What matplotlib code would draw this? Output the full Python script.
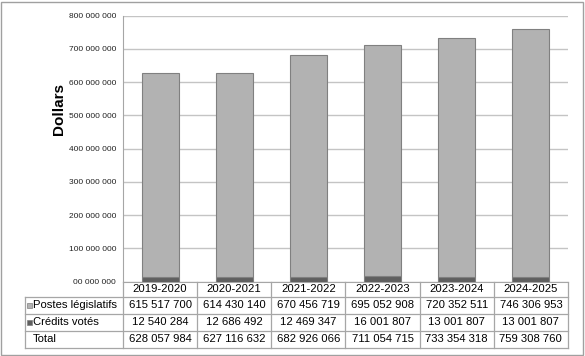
import matplotlib.pyplot as plt
import matplotlib.transforms as mtransforms
import numpy as np

years = ['2019-2020', '2020-2021', '2021-2022', '2022-2023', '2023-2024', '2024-2025']
postes = [615517700, 614430140, 670456719, 695052908, 720352511, 746306953]
credits = [12540284, 12686492, 12469347, 16001807, 13001807, 13001807]
totals = [628057984, 627116632, 682926066, 711054715, 733354318, 759308760]
ytick_vals = [0, 100e6, 200e6, 300e6, 400e6, 500e6, 600e6, 700e6, 800e6]
ytick_labels = ['00 000 000', '100 000 000', '200 000 000', '300 000 000', '400 000 000',
                '500 000 000', '600 000 000', '700 000 000', '800 000 000']


def fmt(v):
    return f'{v:,}'.replace(',', ' ')


plt.rcParams['font.family'] = ['Liberation Sans', 'DejaVu Sans']

light = '#b2b2b2'
dark = '#5f5f5f'
edge = '#808080'
line_c = '#a6a6a6'

fig = plt.figure(figsize=(5.85, 3.56), dpi=100)
W, H = 585, 356
ax = fig.add_axes([123 / W, 1 - 281.5 / H, 445 / W, 265.8 / H])

x = np.arange(len(years))
ax.bar(x, credits, width=0.5, color=dark, edgecolor=edge, linewidth=0.8, zorder=3)
ax.bar(x, postes, bottom=credits, width=0.5, color=light, edgecolor=edge, linewidth=0.8, zorder=3)

ax.set_xlim(-0.5, len(years) - 0.5)
ax.set_ylim(0, 800e6)
ax.set_yticks(ytick_vals)
ax.set_yticklabels(ytick_labels, fontsize=6, color='#222222')
ax.set_xticks([])
ax.tick_params(axis='y', length=0, pad=5)
ax.yaxis.grid(True, color='#c4c4c4', linewidth=1, zorder=0)
for s in ['top', 'right']:
    ax.spines[s].set_visible(False)
ax.spines['left'].set_color(line_c)
ax.spines['bottom'].set_color(line_c)
ax.set_ylabel('Dollars', fontsize=11, fontweight='bold')
ax.yaxis.set_label_coords(-0.128, 0.65)

# data table below the bars
trans = mtransforms.blended_transform_factory(ax.transData, ax.transAxes)
ah = 265.8
rows_y = [0, -15.2 / ah, -32.5 / ah, -49.2 / ah, -66.8 / ah]
left_x = -0.5 - 98 / 74
n = len(years)

kw = dict(transform=trans, color=line_c, linewidth=0.9, clip_on=False)
for yy in rows_y[1:]:
    ax.plot([left_x, n - 0.5], [yy, yy], **kw)
for i in range(n + 1):
    ax.plot([i - 0.5, i - 0.5], [rows_y[0], rows_y[-1]], **kw)
ax.plot([left_x, left_x], [rows_y[1], rows_y[-1]], **kw)

rows = [postes, credits, totals]
row_names = ['Postes législatifs', 'Crédits votés', 'Total']
key_cols = [light, dark, None]
tfs = 8.1
for i, yr in enumerate(years):
    ax.text(i, (rows_y[0] + rows_y[1]) / 2, yr, transform=trans, ha='center', va='center',
            fontsize=tfs, clip_on=False)
for r, vals in enumerate(rows):
    yc = (rows_y[r + 1] + rows_y[r + 2]) / 2
    for i, v in enumerate(vals):
        ax.text(i, yc, fmt(v), transform=trans, ha='center', va='center', fontsize=tfs, clip_on=False)
    ax.text(left_x + 8 / 74, yc, row_names[r], transform=trans, ha='left', va='center',
            fontsize=tfs, clip_on=False)
    if key_cols[r]:
        ax.add_patch(plt.Rectangle((left_x + 2 / 74, yc - 2.5 / ah), 5 / 74, 5 / ah, transform=trans,
                                   facecolor=key_cols[r], edgecolor=edge, linewidth=0.5, clip_on=False))

fig.add_artist(plt.Rectangle((0.5 / W, 1.5 / H), 582 / W, 352.5 / H, transform=fig.transFigure,
                             fill=False, edgecolor='#a0a0a0', linewidth=1))

fig.savefig('out.png', dpi=100)
